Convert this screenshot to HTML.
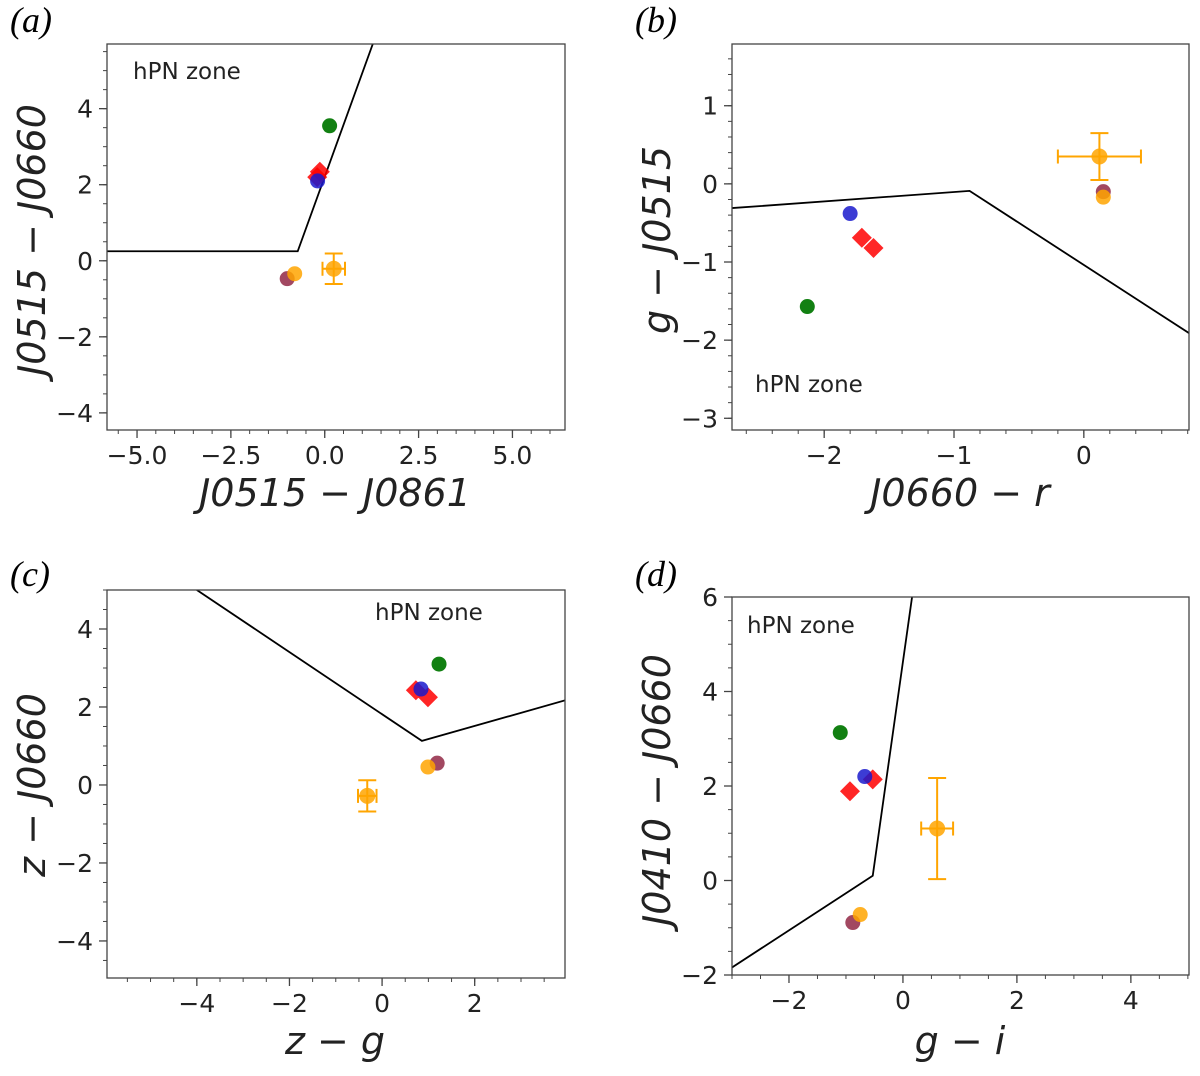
<!DOCTYPE html>
<html><head><meta charset="utf-8">
<style>
body{margin:0;background:#fff;}
svg text{font-family:"DejaVu Sans","Liberation Sans",sans-serif;fill:#222;}
</style></head>
<body>
<svg id="fig" width="1200" height="1071" xmlns="http://www.w3.org/2000/svg"></svg>
<script>
// Panel data
const panelIds = ['a','b','c','d'];
const xLabels = ['J0515 − J0861','J0660 − r','z − g','J0410 − J0660'];
const yLabels = ['J0515 − J0660','g − J0515','z − J0660','J0410 − J0660'];
const xLabelsFix = ['J0515 − J0861','J0660 − r','z − g','g − i'];
const xTicksA = [-5,-2.5,0,2.5,5]; const yTicksA = [-4,-2,0,2,4];
const xTicksB = [-2,-1,0]; const yTicksB = [-3,-2,-1,0,1];
const xTicksC = [-4,-2,0,2]; const yTicksC = [-4,-2,0,2,4];
const xTicksD = [-2,0,2,4]; const yTicksD = [-2,0,2,4,6];
const lineA = [[-5.8,0.25],[-0.72,0.25],[1.28,5.7]];
const lineB = [[-2.71,-0.31],[-0.88,-0.09],[0.81,-1.91]];
const lineC = [[-4,5],[0.86,1.13],[3.95,2.17]];
const lineD = [[-3,-1.84],[-0.53,0.1],[0.16,6]];
// points: [x, y] per source
const greenPts = [[0.13,3.55],[-2.13,-1.57],[1.23,3.1],[-1.1,3.13]];
const bluePts = [[-0.19,2.1],[-1.80,-0.38],[0.84,2.46],[-0.67,2.2]];
const red1Pts = [[-0.13,2.34],[-1.71,-0.69],[0.73,2.43],[-0.93,1.89]];
const red2Pts = [[-0.2,2.2],[-1.62,-0.82],[0.99,2.25],[-0.53,2.14]];
const orangePts = [[-0.8,-0.34],[0.15,-0.17],[0.99,0.46],[-0.75,-0.72]];
const purplePts = [[-1.0,-0.47],[0.15,-0.1],[1.19,0.56],[-0.88,-0.89]];
const errPts = [[0.24,-0.21],[0.12,0.35],[-0.32,-0.28],[0.6,1.1]];
const errX = [0.3,0.32,0.2,0.28];
const errY = [0.4,0.3,0.4,1.07];

const panels = [
 {box:[107,44,565,430],xr:[-5.8,6.4],yr:[-4.45,5.7],xt:xTicksA,yt:yTicksA,xm:0.5,ym:0.5,line:lineA,lp:[10,32],xl:[335,492],yl:[33,240],hz:[133,79],fmt:v=>v.toFixed(1)},
 {box:[732,44,1189,430],xr:[-2.71,0.81],yr:[-3.15,1.79],xt:xTicksB,yt:yTicksB,xm:0.2,ym:0.2,line:lineB,lp:[635,32],xl:[960,492],yl:[658,240],hz:[755,392],fmt:v=>String(v)},
 {box:[107,590,565,978],xr:[-5.94,3.95],yr:[-4.95,5.0],xt:xTicksC,yt:yTicksC,xm:0.5,ym:0.5,line:lineC,lp:[10,586],xl:[335,1040],yl:[33,785],hz:[375,620],fmt:v=>String(v)},
 {box:[732,597,1189,975],xr:[-3.0,5.02],yr:[-2,6],xt:xTicksD,yt:yTicksD,xm:0.5,ym:0.5,line:lineD,lp:[635,586],xl:[960,1040],yl:[658,790],hz:[747,633],fmt:v=>String(v)}
];
const NS='http://www.w3.org/2000/svg';
const svg=document.getElementById('fig');
function mk(tag,attrs,parent,txt){const e=document.createElementNS(NS,tag);for(const k in attrs)e.setAttribute(k,attrs[k]);if(txt!==undefined)e.textContent=txt;(parent||svg).appendChild(e);return e;}
function minus(s){return s.replace('-','−');}
panels.forEach((p,i)=>{
 const [x0,y0,x1,y1]=p.box;
 const X=v=>x0+(v-p.xr[0])/(p.xr[1]-p.xr[0])*(x1-x0);
 const Y=v=>y1-(v-p.yr[0])/(p.yr[1]-p.yr[0])*(y1-y0);
 const g=mk('g',{});
 
 
 const cp=mk('clipPath',{id:'cp'+i},g);mk('rect',{x:x0,y:y0,width:x1-x0,height:y1-y0},cp);
 // minor ticks
 for(let v=Math.ceil(p.xr[0]/p.xm)*p.xm;v<=p.xr[1];v+=p.xm){mk('line',{x1:X(v),x2:X(v),y1:y1,y2:y1+4,stroke:'#444','stroke-width':1},g);}
 for(let v=Math.ceil(p.yr[0]/p.ym)*p.ym;v<=p.yr[1];v+=p.ym){mk('line',{x1:x0,x2:x0-4,y1:Y(v),y2:Y(v),stroke:'#444','stroke-width':1},g);}
 p.xt.forEach(v=>{mk('line',{x1:X(v),x2:X(v),y1:y1,y2:y1+8,stroke:'#444','stroke-width':1.3},g);
  const t=mk('text',{x:X(v),y:y1+34,'text-anchor':'middle','font-size':25},g,minus(p.fmt(v)));
  });
 p.yt.forEach(v=>{mk('line',{x1:x0,x2:x0-8,y1:Y(v),y2:Y(v),stroke:'#444','stroke-width':1.3},g);
  const t=mk('text',{x:x0-14,y:Y(v)+9,'text-anchor':'end','font-size':25},g,minus(String(v)));
  });
 const ln=mk('polyline',{points:p.line.map(q=>X(q[0])+','+Y(q[1])).join(' '),fill:'none',stroke:'#000','stroke-width':1.8,'clip-path':'url(#cp'+i+')'},g);
 
 // error bar point
 const e=errPts[i],ex=errX[i],ey=errY[i],oc='#ffa500';
 mk('line',{x1:X(e[0]-ex),x2:X(e[0]+ex),y1:Y(e[1]),y2:Y(e[1]),stroke:oc,'stroke-width':2},g);
 mk('line',{x1:X(e[0]),x2:X(e[0]),y1:Y(e[1]-ey),y2:Y(e[1]+ey),stroke:oc,'stroke-width':2},g);
 [[X(e[0]-ex),X(e[0]-ex),Y(e[1])-7,Y(e[1])+7],[X(e[0]+ex),X(e[0]+ex),Y(e[1])-7,Y(e[1])+7],[X(e[0])-9,X(e[0])+9,Y(e[1]-ey),Y(e[1]-ey)],[X(e[0])-9,X(e[0])+9,Y(e[1]+ey),Y(e[1]+ey)]].forEach(c=>mk('line',{x1:c[0],x2:c[1],y1:c[2],y2:c[3],stroke:oc,'stroke-width':2},g));
 const ep=mk('circle',{cx:X(e[0]),cy:Y(e[1]),r:8,fill:oc,'fill-opacity':0.85},g);
 
 const circ=(pt,col,op,name)=>{const c=mk('circle',{cx:X(pt[0]),cy:Y(pt[1]),r:7.5,fill:col,'fill-opacity':op},g);
  };
 const dia=(pt,name)=>{const cx=X(pt[0]),cy=Y(pt[1]),s=10;
  const d=mk('polygon',{points:`${cx},${cy-s} ${cx+s},${cy} ${cx},${cy+s} ${cx-s},${cy}`,fill:'#ff0000','fill-opacity':0.85},g);
  };
 circ(purplePts[i],'#8b1a3a',0.8,'purple-point');
 circ(orangePts[i],'#ffa500',0.85,'orange-point');
 circ(greenPts[i],'#128012',1,'green-point');
 dia(red1Pts[i],'red-diamond-1');
 dia(red2Pts[i],'red-diamond-2');
 circ(bluePts[i],'#1a1acc',0.85,'blue-point');
 mk('rect',{x:x0,y:y0,width:x1-x0,height:y1-y0,fill:'none',stroke:'#444','stroke-width':1.3},g);
 const hz=mk('text',{x:p.hz[0],y:p.hz[1],'font-size':23},g,'hPN zone');
 
 const pl=mk('text',{x:p.lp[0],y:p.lp[1],'font-size':36,style:'font-family:"Liberation Serif",serif;font-style:italic;fill:#000'},g,'('+panelIds[i]+')');
 
 const xl=mk('text',{x:p.xl[0],y:p.xl[1]+14,'text-anchor':'middle','font-size':38,style:'font-style:italic'},g,xLabelsFix[i]);
 
 const yl=mk('text',{x:0,y:0,'text-anchor':'middle','font-size':38,style:'font-style:italic',transform:`translate(${p.yl[0]+12},${p.yl[1]}) rotate(-90)`},g,yLabels[i]);
 
});
</script>
</body></html>
